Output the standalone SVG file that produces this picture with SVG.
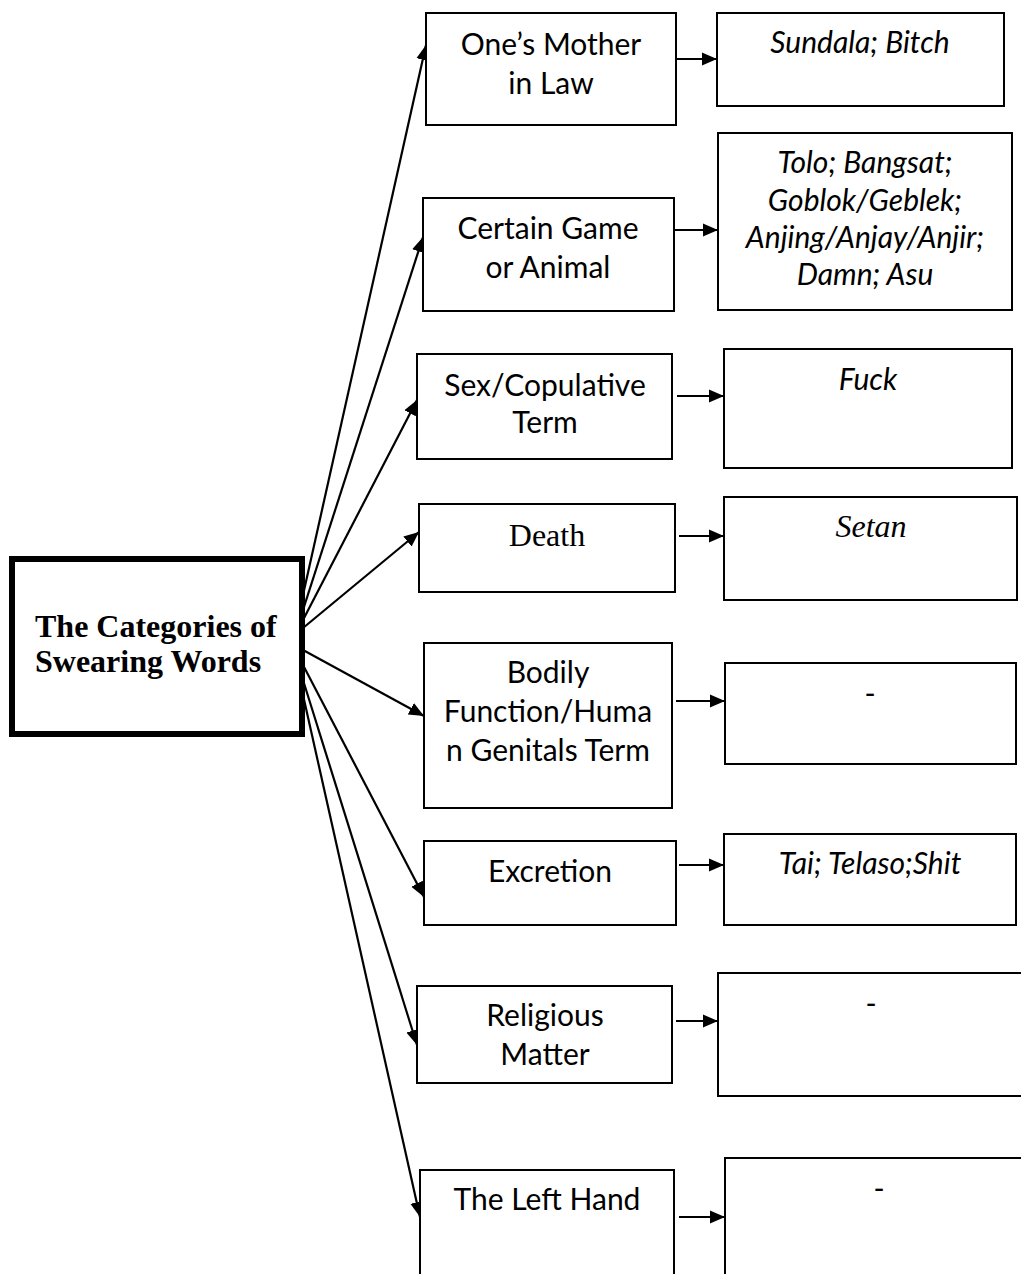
<svg xmlns="http://www.w3.org/2000/svg" width="1021" height="1274" viewBox="0 0 1021 1274">
<style>
.box{fill:#fff;stroke:#000;stroke-width:2}
.main{fill:#fff;stroke:#000;stroke-width:6}
.t{font-family:Lato,"Liberation Sans",sans-serif;font-size:30px;fill:#000;text-anchor:middle}
.ti{font-family:Lato,"Liberation Sans",sans-serif;font-size:30px;font-style:italic;fill:#000;text-anchor:middle}
.tr{font-family:"Liberation Serif",serif;font-size:32px;fill:#000;text-anchor:middle}
.tri{font-family:"Liberation Serif",serif;font-size:32px;font-style:italic;fill:#000;text-anchor:middle}
.tb{font-family:"Liberation Serif",serif;font-size:32px;font-weight:bold;fill:#000}
.c line{stroke:#000;stroke-width:2.2;marker-end:url(#ah)}
</style>
<defs>
<marker id="ah" markerUnits="userSpaceOnUse" markerWidth="16" markerHeight="14" refX="15" refY="7" orient="auto">
<path d="M0,0.5 L15,7 L0,13.5 z" fill="#000"/>
</marker>
</defs>
<rect width="1021" height="1274" fill="#fff"/>
<g class="c" id="connectors">
<line x1="303" y1="595" x2="426" y2="45"/>
<line x1="303" y1="610" x2="423" y2="237"/>
<line x1="303" y1="620" x2="417" y2="400"/>
<line x1="303" y1="628" x2="419" y2="532"/>
<line x1="303" y1="650" x2="424" y2="716"/>
<line x1="303" y1="665" x2="424" y2="897"/>
<line x1="303" y1="680" x2="417" y2="1045"/>
<line x1="303" y1="695" x2="420" y2="1217"/>
<line x1="676" y1="59" x2="717" y2="59"/>
<line x1="674" y1="230" x2="718" y2="230"/>
<line x1="677" y1="396" x2="724" y2="396"/>
<line x1="679" y1="536" x2="724" y2="536"/>
<line x1="676" y1="701" x2="725" y2="701"/>
<line x1="679" y1="865" x2="724" y2="865"/>
<line x1="676" y1="1021" x2="718" y2="1021"/>
<line x1="679" y1="1217" x2="725" y2="1217"/>
</g>
<g id="center">
<rect class="main" x="12" y="559" width="290" height="175"/>
<text class="tb" x="35" y="637">The Categories of</text>
<text class="tb" x="35" y="672">Swearing Words</text>
</g>
<g id="n1"><rect class="box" x="426" y="13" width="250" height="112"/>
<text class="t" x="551" y="55">One’s Mother</text><text class="t" x="551" y="94">in Law</text></g>
<g id="r1"><rect class="box" x="717" y="13" width="287" height="93"/>
<text class="ti" x="860" y="53">Sundala; Bitch</text></g>
<g id="n2"><rect class="box" x="423" y="198" width="251" height="113"/>
<text class="t" x="548" y="239">Certain Game</text><text class="t" x="548" y="278">or Animal</text></g>
<g id="r2"><rect class="box" x="718" y="133" width="294" height="177"/>
<text class="ti" x="865" y="173">Tolo; Bangsat;</text>
<text class="ti" x="865" y="211">Goblok/Geblek;</text>
<text class="ti" x="865" y="248">Anjing/Anjay/Anjir;</text>
<text class="ti" x="865" y="285">Damn; Asu</text></g>
<g id="n3"><rect class="box" x="417" y="354" width="255" height="105"/>
<text class="t" x="545" y="396">Sex/Copulative</text><text class="t" x="545" y="433">Term</text></g>
<g id="r3"><rect class="box" x="724" y="349" width="288" height="119"/>
<text class="ti" x="868" y="390">Fuck</text></g>
<g id="n4"><rect class="box" x="419" y="504" width="256" height="88"/>
<text class="tr" x="547" y="546">Death</text></g>
<g id="r4"><rect class="box" x="724" y="497" width="293" height="103"/>
<text class="tri" x="871" y="537">Setan</text></g>
<g id="n5"><rect class="box" x="424" y="643" width="248" height="165"/>
<text class="t" x="548" y="683">Bodily</text><text class="t" x="548" y="722">Function/Huma</text><text class="t" x="548" y="761">n Genitals Term</text></g>
<g id="r5"><rect class="box" x="725" y="663" width="291" height="101"/>
<text class="t" x="870" y="704">-</text></g>
<g id="n6"><rect class="box" x="424" y="841" width="252" height="84"/>
<text class="t" x="550" y="882">Excretion</text></g>
<g id="r6"><rect class="box" x="724" y="834" width="292" height="91"/>
<text class="ti" x="870" y="874">Tai; Telaso;Shit</text></g>
<g id="n7"><rect class="box" x="417" y="986" width="255" height="97"/>
<text class="t" x="545" y="1026">Religious</text><text class="t" x="545" y="1065">Matter</text></g>
<g id="r7"><rect class="box" x="718" y="973" width="320" height="123"/>
<text class="t" x="871" y="1014">-</text></g>
<g id="n8"><rect class="box" x="420" y="1170" width="254" height="130"/>
<text class="t" x="547" y="1210">The Left Hand</text></g>
<g id="r8"><rect class="box" x="725" y="1158" width="320" height="140"/>
<text class="t" x="879" y="1199">-</text></g>
</svg>
